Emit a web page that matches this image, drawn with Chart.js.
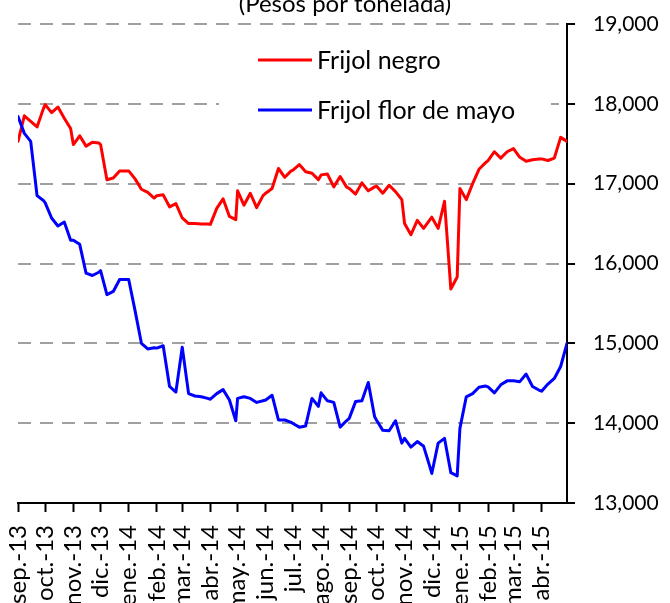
<!DOCTYPE html>
<html><head><meta charset="utf-8">
<script src="https://cdn.jsdelivr.net/npm/chart.js@4.4.0/dist/chart.umd.min.js"></script>
<style>html,body{margin:0;padding:0;background:#fff;}</style>
</head><body>
<canvas id="c" width="670" height="603"></canvas>
<script>
// ---- data ----
const fechas = [
 '2013-09-01','2013-09-08','2013-09-15','2013-09-22','2013-09-29',
 '2013-10-01','2013-10-08','2013-10-15','2013-10-22','2013-10-29',
 '2013-11-01','2013-11-08','2013-11-15','2013-11-22','2013-11-29',
 '2013-12-01','2013-12-08','2013-12-15','2013-12-22','2013-12-29',
 '2014-01-01','2014-01-08','2014-01-15','2014-01-22','2014-01-29',
 '2014-02-01','2014-02-08','2014-02-15','2014-02-22',
 '2014-03-01','2014-03-08','2014-03-15','2014-03-22','2014-03-29',
 '2014-04-01','2014-04-08','2014-04-15','2014-04-22','2014-04-29',
 '2014-05-01','2014-05-08','2014-05-15','2014-05-22','2014-05-29',
 '2014-06-01','2014-06-08','2014-06-15','2014-06-22','2014-06-29',
 '2014-07-01','2014-07-08','2014-07-15','2014-07-22','2014-07-29',
 '2014-08-01','2014-08-08','2014-08-15','2014-08-22','2014-08-29',
 '2014-09-01','2014-09-08','2014-09-15','2014-09-22','2014-09-29',
 '2014-10-01','2014-10-08','2014-10-15','2014-10-22','2014-10-29',
 '2014-11-01','2014-11-08','2014-11-15','2014-11-22','2014-11-29',
 '2014-12-01','2014-12-08','2014-12-15','2014-12-22','2014-12-29',
 '2015-01-01','2015-01-08','2015-01-15','2015-01-22','2015-01-29',
 '2015-02-01','2015-02-08','2015-02-15','2015-02-22',
 '2015-03-01','2015-03-08','2015-03-15','2015-03-22','2015-03-29',
 '2015-04-01','2015-04-08','2015-04-15','2015-04-22','2015-04-29'
];
const frijolNegro = [
 17530,17850,17780,17710,17940,
 17990,17890,17960,17820,17690,
 17490,17600,17470,17520,17510,
 17490,17050,17070,17160,17160,
 17160,17060,16930,16890,16820,
 16850,16860,16710,16750,
 16570,16500,16500,16495,16495,
 16490,16690,16810,16590,16550,
 16910,16730,16880,16700,16850,
 16880,16940,17190,17080,17160,
 17170,17240,17150,17130,17050,
 17110,17120,16960,17090,16960,
 16940,16870,17010,16910,16960,
 16970,16880,16980,16900,16800,
 16500,16360,16540,16440,16550,
 16580,16440,16780,15680,15830,
 16940,16800,17000,17180,17260,
 17290,17400,17320,17400,
 17440,17330,17280,17300,17310,
 17310,17290,17320,17580,17530
];
const frijolFlorDeMayo = [
 17840,17630,17530,16850,16790,
 16760,16570,16470,16520,16290,
 16290,16240,15880,15850,15890,
 15910,15610,15650,15800,15800,
 15800,15410,15000,14930,14945,
 14940,14970,14460,14390,
 14950,14370,14340,14330,14310,
 14300,14370,14420,14290,14030,
 14310,14330,14310,14260,14280,
 14290,14350,14040,14040,14010,
 13995,13950,13965,14310,14210,
 14380,14280,14260,13950,14030,
 14060,14270,14280,14510,14080,
 14040,13910,13905,14030,13750,
 13810,13700,13770,13710,13450,
 13370,13750,13810,13380,13340,
 13935,14330,14370,14450,14465,
 14455,14380,14480,14530,
 14530,14520,14615,14460,14415,
 14400,14490,14560,14710,15000
];
const etiquetasMes = ['sep.-13','oct.-13','nov.-13','dic.-13','ene.-14','feb.-14','mar.-14','abr.-14','may.-14','jun.-14','jul.-14','ago.-14','sep.-14','oct.-14','nov.-14','dic.-14','ene.-15','feb.-15','mar.-15','abr.-15'];
const ticksY = [13000,14000,15000,16000,17000,18000,19000];
const nombresSeries = ['Frijol negro','Frijol flor de mayo'];
const titulo = '(Pesos por tonelada)';

// ---- helpers ----
const base = Date.parse(fechas[0]);
const dia = s => (Date.parse(s) - base) / 86400000;
const inicioMes = fechas.filter(f => f.endsWith('-01')).map(dia);
const FONT = 'Lato';

const decoPlugin = {
  id: 'deco',
  beforeDatasetsDraw(chart) {
    const {ctx, chartArea: a} = chart;
    ctx.save();
    // legend box
    ctx.fillStyle = '#fff';
    ctx.fillRect(a.left + 201, a.top + 12, 332, 92);
    const rows = [a.top + 36, a.top + 86];
    chart.data.datasets.forEach((ds, i) => {
      const y = rows[i];
      ctx.strokeStyle = ds.borderColor;
      ctx.lineWidth = 3;
      ctx.beginPath();
      ctx.moveTo(a.left + 240, y);
      ctx.lineTo(a.left + 294, y);
      ctx.stroke();
      ctx.fillStyle = '#000';
      ctx.font = '25px ' + FONT;
      ctx.textBaseline = 'middle';
      ctx.textAlign = 'left';
      ctx.fillText(ds.label, a.left + 299, y + 1);
    });
    ctx.restore();
  },
  afterDraw(chart) {
    const {ctx, chartArea: a} = chart;
    ctx.save();
    ctx.fillStyle = '#000';
    ctx.font = '24px ' + FONT;
    ctx.textAlign = 'center';
    ctx.textBaseline = 'alphabetic';
    ctx.fillText(titulo, a.left + 327, 12);
    ctx.restore();
  }
};

new Chart(document.getElementById('c'), {
  type: 'line',
  data: {
    datasets: [
      {label: nombresSeries[0], data: fechas.map((f, i) => ({x: dia(f), y: frijolNegro[i]})),
       borderColor: '#ff0000', borderWidth: 3, pointRadius: 0, tension: 0, order: 2,
       borderJoinStyle: 'round', borderCapStyle: 'round'},
      {label: nombresSeries[1], data: fechas.map((f, i) => ({x: dia(f), y: frijolFlorDeMayo[i]})),
       borderColor: '#0000ff', borderWidth: 3, pointRadius: 0, tension: 0, order: 1,
       borderJoinStyle: 'round', borderCapStyle: 'round'}
    ]
  },
  options: {
    responsive: false,
    animation: false,
    devicePixelRatio: 1,
    layout: {padding: {left: 18, top: 24, right: 0, bottom: 0}},
    plugins: {legend: {display: false}, title: {display: false}, tooltip: {enabled: false}},
    scales: {
      x: {
        type: 'linear',
        min: 0,
        max: dia(fechas[fechas.length - 1]),
        afterBuildTicks: s => { s.ticks = inicioMes.map(v => ({value: v})); },
        afterFit: s => { s.height = 100; s.paddingLeft = 0; s.paddingRight = 0; },
        ticks: {
          autoSkip: false, maxRotation: 90, minRotation: 90, padding: 13,
          color: '#000', font: {family: FONT, size: 24},
          callback: (v, i) => etiquetasMes[i]
        },
        grid: {drawOnChartArea: false, drawTicks: true, tickLength: 9, tickColor: '#000', tickWidth: 2},
        border: {display: true, color: '#000', width: 2}
      },
      y: {
        position: 'right',
        min: 13000, max: 19000,
        afterBuildTicks: s => { s.ticks = ticksY.map(v => ({value: v})); },
        afterFit: s => { s.width = 103; s.paddingTop = 0; s.paddingBottom = 0; },
        ticks: {
          padding: 18, color: '#000', font: {family: FONT, size: 21},
          callback: v => v.toLocaleString('en-US')
        },
        grid: {
          color: c => (c.tick && c.tick.value === 13000) ? 'rgba(0,0,0,0)' : '#a0a0a0',
          lineWidth: 2, drawTicks: true, tickLength: 8, tickColor: '#000', tickWidth: 2
        },
        border: {display: true, color: '#000', width: 2, dash: [13, 9]}
      }
    }
  },
  plugins: [decoPlugin]
});
</script>
</body></html>
